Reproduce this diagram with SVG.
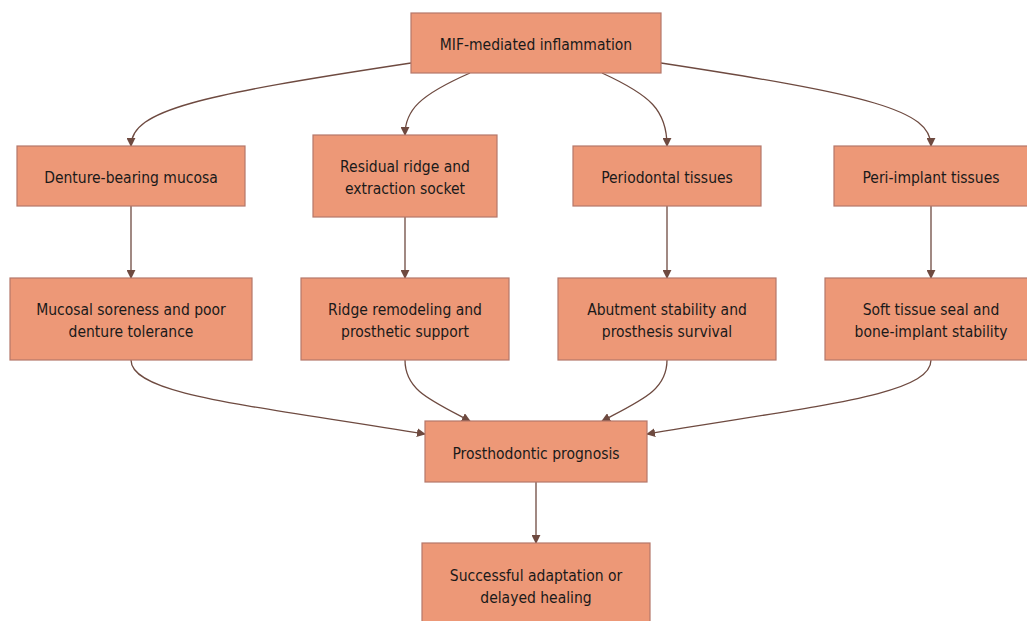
<svg xmlns="http://www.w3.org/2000/svg" width="1027" height="621" viewBox="0 0 1027 621">
<style>
.n rect{fill:#ED9877;stroke:#B5776A;stroke-width:1.2}
.n text{font-family:"DejaVu Sans Condensed","DejaVu Sans",sans-serif;font-size:15.5px;fill:#1a1a1a;text-anchor:middle}
.e path{fill:none;stroke:#6E4A40;stroke-width:1.3;marker-end:url(#a)}
</style>
<defs>
<marker id="a" viewBox="0 0 10 10" refX="9" refY="5" markerWidth="9" markerHeight="9" markerUnits="userSpaceOnUse" orient="auto">
<path d="M0,0 L10,5 L0,10 z" fill="#6E4A40"/>
</marker>
</defs>
<rect width="1027" height="621" fill="#fff"/>
<g class="e">
<path d="M411,63 C200,95 131,110 131,146"/>
<path d="M470,73 C420,95 405,110 405,135"/>
<path d="M602,73 C650,95 667,110 667,146"/>
<path d="M661,63 C870,95 931,110 931,146"/>
<path d="M131,206 L131,278"/>
<path d="M405,217 L405,278"/>
<path d="M667,206 L667,278"/>
<path d="M931,206 L931,278"/>
<path d="M131,360 C131,395 250,405 425,434"/>
<path d="M405,360 C405,390 430,400 470,421"/>
<path d="M667,360 C667,390 642,400 602,421"/>
<path d="M931,360 C931,395 820,405 647,434"/>
<path d="M536,482 L536,543"/>
</g>
<g id="n1" class="n"><rect x="411" y="13" width="250" height="60"/><text x="536" y="50">MIF-mediated inflammation</text></g>
<g id="n2" class="n"><rect x="17" y="146" width="228" height="60"/><text x="131" y="183">Denture-bearing mucosa</text></g>
<g id="n3" class="n"><rect x="313" y="135" width="184" height="82"/><text x="405" y="172">Residual ridge and</text><text x="405" y="194">extraction socket</text></g>
<g id="n4" class="n"><rect x="573" y="146" width="188" height="60"/><text x="667" y="183">Periodontal tissues</text></g>
<g id="n5" class="n"><rect x="834" y="146" width="194" height="60"/><text x="931" y="183">Peri-implant tissues</text></g>
<g id="n6" class="n"><rect x="10" y="278" width="242" height="82"/><text x="131" y="315">Mucosal soreness and poor</text><text x="131" y="337">denture tolerance</text></g>
<g id="n7" class="n"><rect x="301" y="278" width="208" height="82"/><text x="405" y="315">Ridge remodeling and</text><text x="405" y="337">prosthetic support</text></g>
<g id="n8" class="n"><rect x="558" y="278" width="218" height="82"/><text x="667" y="315">Abutment stability and</text><text x="667" y="337">prosthesis survival</text></g>
<g id="n9" class="n"><rect x="825" y="278" width="212" height="82"/><text x="931" y="315">Soft tissue seal and</text><text x="931" y="337">bone-implant stability</text></g>
<g id="n10" class="n"><rect x="425" y="421" width="222" height="61"/><text x="536" y="459">Prosthodontic prognosis</text></g>
<g id="n11" class="n"><rect x="422" y="543" width="228" height="90"/><text x="536" y="581">Successful adaptation or</text><text x="536" y="603">delayed healing</text></g>
</svg>
